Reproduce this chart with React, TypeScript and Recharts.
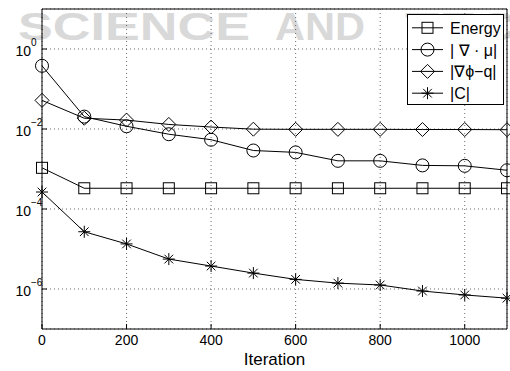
import React from 'react';
import { LineChart, Line, XAxis, YAxis, CartesianGrid, Legend, ReferenceArea } from 'recharts';

const iterations = [0, 100, 200, 300, 400, 500, 600, 700, 800, 900, 1000, 1100];
const energy = [1.07e-3, 3.3e-4, 3.3e-4, 3.3e-4, 3.3e-4, 3.3e-4, 3.3e-4, 3.3e-4, 3.3e-4, 3.3e-4, 3.3e-4, 3.3e-4];
const divMu = [0.38, 0.0204, 0.0117, 0.0074, 0.0054, 0.0029, 0.0026, 0.0016, 0.0016, 0.00123, 0.0012, 0.00093];
const gradPhiQ = [0.052, 0.0186, 0.0167, 0.013, 0.0112, 0.0099, 0.0098, 0.0098, 0.0098, 0.0097, 0.0097, 0.0096];
const constraintC = [2.66e-4, 2.7e-5, 1.34e-5, 5.6e-6, 3.75e-6, 2.5e-6, 1.74e-6, 1.4e-6, 1.26e-6, 8.9e-7, 7.1e-7, 5.9e-7];

const xTicks = [0, 200, 400, 600, 800, 1000];
const yTicks = [1, 1e-2, 1e-4, 1e-6];
const yTickExponents = ['0', '−2', '−4', '−6'];
const seriesNames = ['Energy', '| ∇ · μ|', '|∇ϕ−q|', '|C|'];
const seriesKeys = ['energy', 'divMu', 'gradPhiQ', 'constraintC'];
const markerKinds = ['square', 'circle', 'diamond', 'star'];
const xLabel = 'Iteration';

const data = iterations.map((it, i) => ({
  it,
  energy: energy[i],
  divMu: divMu[i],
  gradPhiQ: gradPhiQ[i],
  constraintC: constraintC[i],
}));

const FONT = '"Liberation Sans", Arial, Helvetica, sans-serif';

function drawMarker(kind: string, cx: number, cy: number, key?: any) {
  const common = { stroke: '#000', strokeWidth: 1, fill: 'none' };
  if (kind === 'square') {
    const s = 5.5;
    return <rect key={key} x={cx - s} y={cy - s} width={2 * s} height={2 * s} {...common} />;
  }
  if (kind === 'circle') {
    return <circle key={key} cx={cx} cy={cy} r={6.5} {...common} />;
  }
  if (kind === 'diamond') {
    const s = 7;
    return <polygon key={key} points={`${cx},${cy - s} ${cx + s},${cy} ${cx},${cy + s} ${cx - s},${cy}`} {...common} />;
  }
  const r = 6;
  const d = r * 0.72;
  return (
    <g key={key} stroke="#000" strokeWidth={1}>
      <line x1={cx} y1={cy - r} x2={cx} y2={cy + r} />
      <line x1={cx - r} y1={cy} x2={cx + r} y2={cy} />
      <line x1={cx - d} y1={cy - d} x2={cx + d} y2={cy + d} />
      <line x1={cx - d} y1={cy + d} x2={cx + d} y2={cy - d} />
    </g>
  );
}

const makeDot = (kind: string) => (props: any) => {
  const { cx, cy, index } = props;
  if (cx == null || cy == null) return <g key={`n-${index}`} />;
  return drawMarker(kind, cx, cy, `${kind}-${index}`);
};

const XTick = (props: any) => {
  const { x, y, payload } = props;
  return (
    <g>
      <line x1={x} x2={x} y1={y} y2={y - 5} stroke="#000" strokeWidth={1} />
      <text x={x} y={y + 16} textAnchor="middle" fontSize={14} fontFamily={FONT} fill="#000">
        {payload.value}
      </text>
    </g>
  );
};

const YTick = (props: any) => {
  const { x, y, payload } = props;
  const idx = yTicks.indexOf(payload.value);
  const exp = idx >= 0 ? yTickExponents[idx] : '';
  return (
    <g>
      <line x1={x} x2={x + 5} y1={y} y2={y} stroke="#000" strokeWidth={1} />
      <text x={x - 11} y={y + 7} textAnchor="end" fontSize={14} fontFamily={FONT} fill="#000">
        10
      </text>
      <text x={x - 11} y={y - 3} textAnchor="start" fontSize={10} fontFamily={FONT} fill="#000">
        {exp}
      </text>
    </g>
  );
};

const LegendContent = () => {
  const w = 97;
  const h = 91;
  return (
    <svg width={w} height={h} style={{ display: 'block' }}>
      <rect x={0.5} y={0.5} width={w - 1} height={h - 1} fill="#fff" stroke="#000" strokeWidth={1} />
      {seriesNames.map((name, i) => {
        const cy = 13.8 + i * 21.8;
        return (
          <g key={name}>
            <line x1={5} x2={36} y1={cy} y2={cy} stroke="#000" strokeWidth={1} />
            {drawMarker(markerKinds[i], 20.5, cy)}
            <text x={43} y={cy + 6} fontSize={16} fontFamily={FONT} fill="#000">
              {name}
            </text>
          </g>
        );
      })}
    </svg>
  );
};

export default function App() {
  return (
    <div style={{ position: 'absolute', left: 0, top: 0, width: 510, height: 371, background: '#fff' }}>
      <svg width={510} height={371} style={{ position: 'absolute', left: 0, top: 0 }}>
        <g fill="#d9d9d9" fontFamily={FONT} fontWeight="bold" fontSize={38}>
          <text x={18} y={40} textLength={232} lengthAdjust="spacingAndGlyphs">SCIENCE</text>
          <text x={275} y={40} textLength={90} lengthAdjust="spacingAndGlyphs">AND</text>
          <text x={405} y={40} textLength={112} lengthAdjust="spacingAndGlyphs">TEC</text>
        </g>
      </svg>
      <div style={{ position: 'absolute', left: 0, top: 0 }}>
        <LineChart
          width={510}
          height={371}
          data={data}
          margin={{ top: 9, right: 3, left: 0, bottom: 0 }}
          style={{ background: 'transparent' }}
        >
          <CartesianGrid stroke="#444" strokeDasharray="1 3" strokeWidth={0.8} />
          <XAxis
            dataKey="it"
            type="number"
            domain={[0, 1100]}
            ticks={xTicks}
            height={42}
            tickSize={0}
            tickMargin={0}
            axisLine={false}
            tick={<XTick />}
            label={{ value: xLabel, position: 'insideBottom', offset: 6, fontSize: 17, fontFamily: FONT, fill: '#000' }}
          />
          <YAxis
            type="number"
            scale="log"
            domain={[1e-7, 10]}
            allowDataOverflow
            ticks={yTicks}
            width={42}
            tickSize={0}
            tickMargin={0}
            axisLine={false}
            tick={<YTick />}
          />
          <ReferenceArea x1={0} x2={1100} y1={1e-7} y2={10} fill="none" stroke="#000" strokeWidth={1} ifOverflow="visible" />
          {seriesKeys.map((k, i) => (
            <Line
              key={k}
              dataKey={k}
              name={seriesNames[i]}
              stroke="#000"
              strokeWidth={1}
              dot={makeDot(markerKinds[i])}
              activeDot={false}
              isAnimationActive={false}
            />
          ))}
          <Legend
            layout="horizontal"
            verticalAlign="middle"
            align="center"
            content={<LegendContent />}
            wrapperStyle={{ top: 14, left: 407, width: 97, height: 91 }}
          />
        </LineChart>
      </div>
    </div>
  );
}
